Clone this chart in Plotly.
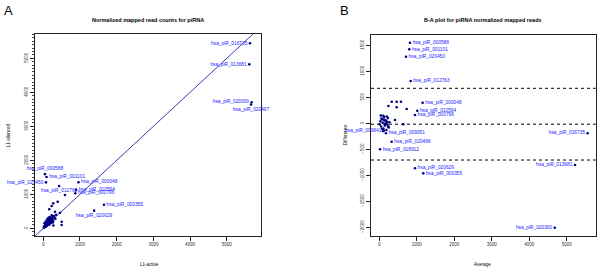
import plotly.graph_objects as go

W, H = 600, 269

# ---------------- Panel A data (L1-active vs L1-silenced) ----------------
a_names = ["hsa_piR_016735", "hsa_piR_013681", "hsa_piR_020300", "hsa_piR_020497",
           "hsa_piR_000588", "hsa_piR_001101", "hsa_piR_020450", "hsa_piR_012763",
           "hsa_piR_000048", "hsa_piR_010594", "hsa_piR_000796", "hsa_piR_000355",
           "hsa_piR_020629"]
a_active = [5632, 5613, 5678, 5660, 44, 89, 72, 431, 959, 892, 872, 1654, 1384]
a_silenced = [5441, 4823, 3706, 3640, 1594, 1511, 1352, 1244, 1355, 1134, 1032, 692, 519]
a_textpos = ["middle left", "middle left", "middle left", "bottom center",
             "top center", "middle right", "middle left", "bottom center",
             "middle right", "middle right", "middle right", "middle right",
             "bottom center"]

a_other_active = [392, 591, 272, 163, 319, 455, 501, 501, 229, 275,
                  15, 25, 40, 55, 60, 70, 80, 90, 95, 105, 115, 120, 130, 140, 150,
                  160, 165, 175, 185, 195, 205, 215, 225, 240, 255, 270, 290, 310,
                  330, 350, 30, 65, 100, 135, 170, 200, 230, 260]
a_other_silenced = [782, 979, 735, 559, 488, 459, 194, 97, 656, 83,
                    20, 60, 30, 90, 130, 50, 110, 160, 70, 140, 190, 95, 230, 120, 170,
                    250, 110, 200, 290, 150, 240, 310, 180, 270, 330, 220, 360, 300,
                    280, 400, 150, 200, 260, 300, 330, 210, 380, 170]

a_xticks = [0, 1000, 2000, 3000, 4000, 5000]
a_yticks = [0, 1000, 2000, 3000, 4000, 5000]

# ---------------- Panel B data (average vs difference) ----------------
b_names = ["hsa_piR_000588", "hsa_piR_001101", "hsa_piR_020450", "hsa_piR_012763",
           "hsa_piR_000048", "hsa_piR_010594", "hsa_piR_000796", "hsa_piR_009841",
           "hsa_piR_009051", "hsa_piR_020496", "hsa_piR_018912", "hsa_piR_020629",
           "hsa_piR_000355", "hsa_piR_016735", "hsa_piR_013681", "hsa_piR_020300"]
b_average = [819, 800, 712, 837, 1157, 1013, 952, 125, 179, 330, 20, 952, 1173, 5557, 5219, 4680]
b_difference = [1550, 1423, 1281, 813, 396, 242, 160, -142, -192, -354, -500, -865, -962,
                -192, -802, -2007]
b_textpos = ["middle right"] * 7 + ["middle left", "middle right", "middle right",
             "middle right", "middle right", "middle right", "middle left",
             "middle left", "middle left"]

b_other_average = [243, 331, 464, 579, 464, 731, 419, 640, 107,
                   10, 30, 50, 70, 90, 110, 130, 150, 170, 190, 210, 230, 250, 270,
                   40, 80, 120, 160, 200, 240, 60, 100, 140, 180, 220]
b_other_difference = [333, 415, 415, 415, 308, 275, 63, -19, 146,
                      -20, 40, -60, 80, 10, -100, 120, -40, 60, -130, 30, 100, -80, 20,
                      150, -110, 70, -10, 130, -60, 90, -150, 50, 0, -30]

b_hlines = [673, -17, -706]   # upper limit, mean, lower limit
b_xticks = [0, 1000, 2000, 3000, 4000, 5000]
b_yticks = [1500, 1000, 500, 0, -500, -1000, -1500, -2000]

# ---------------- styling ----------------
FONT = "Liberation Sans, Arial, sans-serif"
NAVY = "#000080"
BLUE = "#1a1aff"
MS = 2.6

a_xrange = [-226, 5924]
a_yrange = [-226, 5715]
b_xrange = [-221, 5771]
b_yrange = [-2167, 1704]

def px_x(p):
    return p / W

def px_y(p):
    return 1 - p / H

fig = go.Figure()

# diagonal y = x line in panel A
lo = a_xrange[0]
hi = max(a_xrange[1], a_yrange[1])
fig.add_trace(go.Scatter(x=[lo, hi], y=[lo, hi], mode="lines",
                         line=dict(color="#3b3bb0", width=1),
                         xaxis="x", yaxis="y", hoverinfo="skip"))

fig.add_trace(go.Scatter(x=a_other_active, y=a_other_silenced, mode="markers",
                         marker=dict(color=NAVY, size=MS),
                         xaxis="x", yaxis="y"))
fig.add_trace(go.Scatter(x=a_active, y=a_silenced, mode="markers+text",
                         text=a_names, textposition=a_textpos,
                         textfont=dict(family=FONT, size=4.8, color=BLUE),
                         marker=dict(color=NAVY, size=MS),
                         cliponaxis=False, xaxis="x", yaxis="y"))

fig.add_trace(go.Scatter(x=b_other_average, y=b_other_difference, mode="markers",
                         marker=dict(color=NAVY, size=MS),
                         xaxis="x2", yaxis="y2"))
fig.add_trace(go.Scatter(x=b_average, y=b_difference, mode="markers+text",
                         text=b_names, textposition=b_textpos,
                         textfont=dict(family=FONT, size=4.8, color=BLUE),
                         marker=dict(color=NAVY, size=MS),
                         cliponaxis=False, xaxis="x2", yaxis="y2"))

for yv in b_hlines:
    fig.add_shape(type="line", xref="x2 domain", yref="y2", x0=0, x1=1, y0=yv, y1=yv,
                  line=dict(color="black", width=1, dash="dot"))

axis_common = dict(showline=True, mirror=True, linecolor="#222", linewidth=1,
                   ticks="outside", ticklen=4, tickcolor="#222", tickwidth=1,
                   showgrid=False, zeroline=False, automargin=False,
                   tickfont=dict(family=FONT, size=4.5, color="#333"))

TF = dict(family=FONT, size=4.5, color="black")

fig.update_layout(
    width=W, height=H, margin=dict(l=0, r=0, t=0, b=0),
    paper_bgcolor="white", plot_bgcolor="white", showlegend=False,
    xaxis=dict(domain=[px_x(35), px_x(260.7)], range=a_xrange, anchor="y",
               tickvals=a_xticks, **axis_common),
    yaxis=dict(domain=[px_y(236), px_y(34)], range=a_yrange, anchor="x",
               tickvals=a_yticks, tickangle=-90,
               minor=dict(ticks="outside", ticklen=2, dtick=100, tickcolor="#444"),
               **axis_common),
    xaxis2=dict(domain=[px_x(371), px_x(595.7)], range=b_xrange, anchor="y2",
                tickvals=b_xticks, **axis_common),
    yaxis2=dict(domain=[px_y(236), px_y(34.7)], range=b_yrange, anchor="x2",
                tickvals=b_yticks, tickangle=-90, **axis_common),
)

ann = [
    dict(text="A", x=px_x(8), y=px_y(10), font=dict(size=13, family=FONT, color="black")),
    dict(text="B", x=px_x(344), y=px_y(10), font=dict(size=13, family=FONT, color="black")),
    dict(text="<b>Normalized mapped read counts for piRNA</b>", x=px_x(148), y=px_y(20),
         font=dict(size=5.5, family=FONT, color="black")),
    dict(text="<b>B-A plot for piRNA normalized mapped reads</b>", x=px_x(483), y=px_y(20),
         font=dict(size=5.5, family=FONT, color="black")),
    dict(text="L1-active", x=px_x(149), y=px_y(264), font=TF),
    dict(text="L1-silenced", x=px_x(8), y=px_y(135), textangle=-90, font=TF),
    dict(text="Average", x=px_x(482.5), y=px_y(264), font=TF),
    dict(text="Difference", x=px_x(345), y=px_y(135), textangle=-90, font=TF),
]
for a in ann:
    a.update(xref="paper", yref="paper", showarrow=False, xanchor="center", yanchor="middle")
    fig.add_annotation(**a)

fig.write_html("out.html", config={"displayModeBar": False},
               post_script="document.body.style.margin='0';document.body.style.overflow='hidden';")
